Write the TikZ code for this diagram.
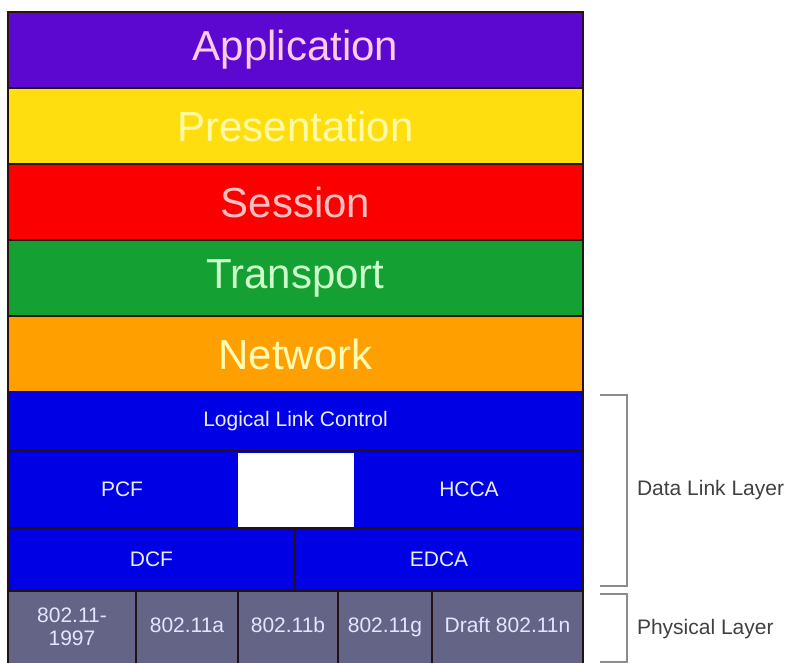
\documentclass[tikz,border=0pt]{standalone}
\usepackage{fontspec}
\setmainfont{Liberation Sans}
\usetikzlibrary{positioning}

\definecolor{appcol}{RGB}{92,8,208}
\definecolor{prescol}{RGB}{255,222,16}
\definecolor{sesscol}{RGB}{250,0,0}
\definecolor{transcol}{RGB}{20,160,50}
\definecolor{netcol}{RGB}{255,160,0}
\definecolor{linkcol}{RGB}{0,0,228}
\definecolor{phycol}{RGB}{100,100,135}
\definecolor{edgecol}{RGB}{40,20,20}

\tikzset{
  every node/.style={outer sep=0pt},
  layer/.style={draw=edgecol, line width=1.5pt, minimum width=575pt,
    minimum height=76pt, inner sep=0pt, font=\fontsize{42}{44}\selectfont},
  sublayer/.style={fill=linkcol, inner sep=0pt,
    text=blue!8!white, font=\fontsize{21}{23}\selectfont},
  phybox/.style={fill=phycol, inner sep=0pt,
    minimum height=72pt, text=white!90!blue, align=center,
    font=\fontsize{21}{23}\selectfont},
  oneline/.style={text height=15pt, text depth=5pt},
  sepline/.style={draw=edgecol!90!black, line width=1.8pt},
  brk/.style={draw=black!45, line width=1.6pt},
  sidelabel/.style={anchor=west, inner sep=0pt, text=black!75,
    font=\fontsize{21}{23}\selectfont}
}

\begin{document}
\begin{tikzpicture}[x=1pt,y=-1pt]
  \useasboundingbox (0,0) rectangle (785,662);
  % upper layers
  \node[layer, fill=appcol, text=magenta!20!white] (app) at (295.5,50) {Application};
  \node[layer, fill=prescol, text=yellow!35!white, below=0pt of app] (pres) {Presentation};
  \node[layer, fill=sesscol, text=red!25!white, below=0pt of pres] (sess) {Session};
  \node[layer, fill=transcol, text=green!20!white, below=0pt of sess] (trans) {Transport};
  \node[layer, fill=netcol, text=yellow!30!white, below=0pt of trans] (net) {Network};
  % data link layer
  \node[sublayer, minimum width=575pt, minimum height=59pt, below=0pt of net] (llc) {Logical Link Control};
  \node[sublayer, minimum width=228pt, minimum height=77pt, anchor=north west] (pcf) at (llc.south west) {PCF};
  \node[draw=linkcol, line width=3pt, fill=white, minimum width=119pt, minimum height=77pt,
    inner sep=0pt, anchor=west] (gap) at (pcf.east) {};
  \node[sublayer, minimum width=228pt, minimum height=77pt, anchor=west] (hcca) at (gap.east) {HCCA};
  \node[sublayer, minimum width=287pt, minimum height=63pt, anchor=north west] (dcf) at (pcf.south west) {DCF};
  \node[sublayer, minimum width=288pt, minimum height=63pt, anchor=west] (edca) at (dcf.east) {EDCA};
  % physical layer
  \node[phybox, minimum width=128pt, anchor=north west] (p97) at (dcf.south west) {802.11-\\1997};
  \node[phybox, oneline, minimum width=102pt, anchor=west] (pa) at (p97.east) {802.11a};
  \node[phybox, oneline, minimum width=100pt, anchor=west] (pb) at (pa.east) {802.11b};
  \node[phybox, oneline, minimum width=94pt, anchor=west] (pg) at (pb.east) {802.11g};
  \node[phybox, oneline, minimum width=151pt, anchor=west] (pn) at (pg.east) {Draft 802.11n};
  % dividing lines
  \draw[sepline] (llc.south west) -- (llc.south east);
  \draw[sepline] (pcf.south west) -- (hcca.south east);
  \draw[sepline] (dcf.north east) -- (dcf.south east);
  \draw[sepline] (dcf.south west) -- (edca.south east);
  \foreach \p in {p97,pa,pb,pg}
    \draw[sepline] (\p.north east) -- (\p.south east);
  \draw[sepline] (llc.north west) -- (p97.south west);
  \draw[sepline] (llc.north east) -- (pn.south east);
  % brackets
  \coordinate (dltop) at (600,395);
  \coordinate (dlbot) at (600,586);
  \coordinate (phtop) at (600,594);
  \coordinate (phbot) at (600,662);
  \draw[brk] (dltop) -- ++(27,0) |- (dlbot);
  \draw[brk] (phtop) -- ++(27,0) |- (phbot);
  \node[sidelabel] (dll) at (637,490) {Data Link Layer};
  \node[sidelabel] (phl) at (637,629) {Physical Layer};
\end{tikzpicture}
\end{document}
